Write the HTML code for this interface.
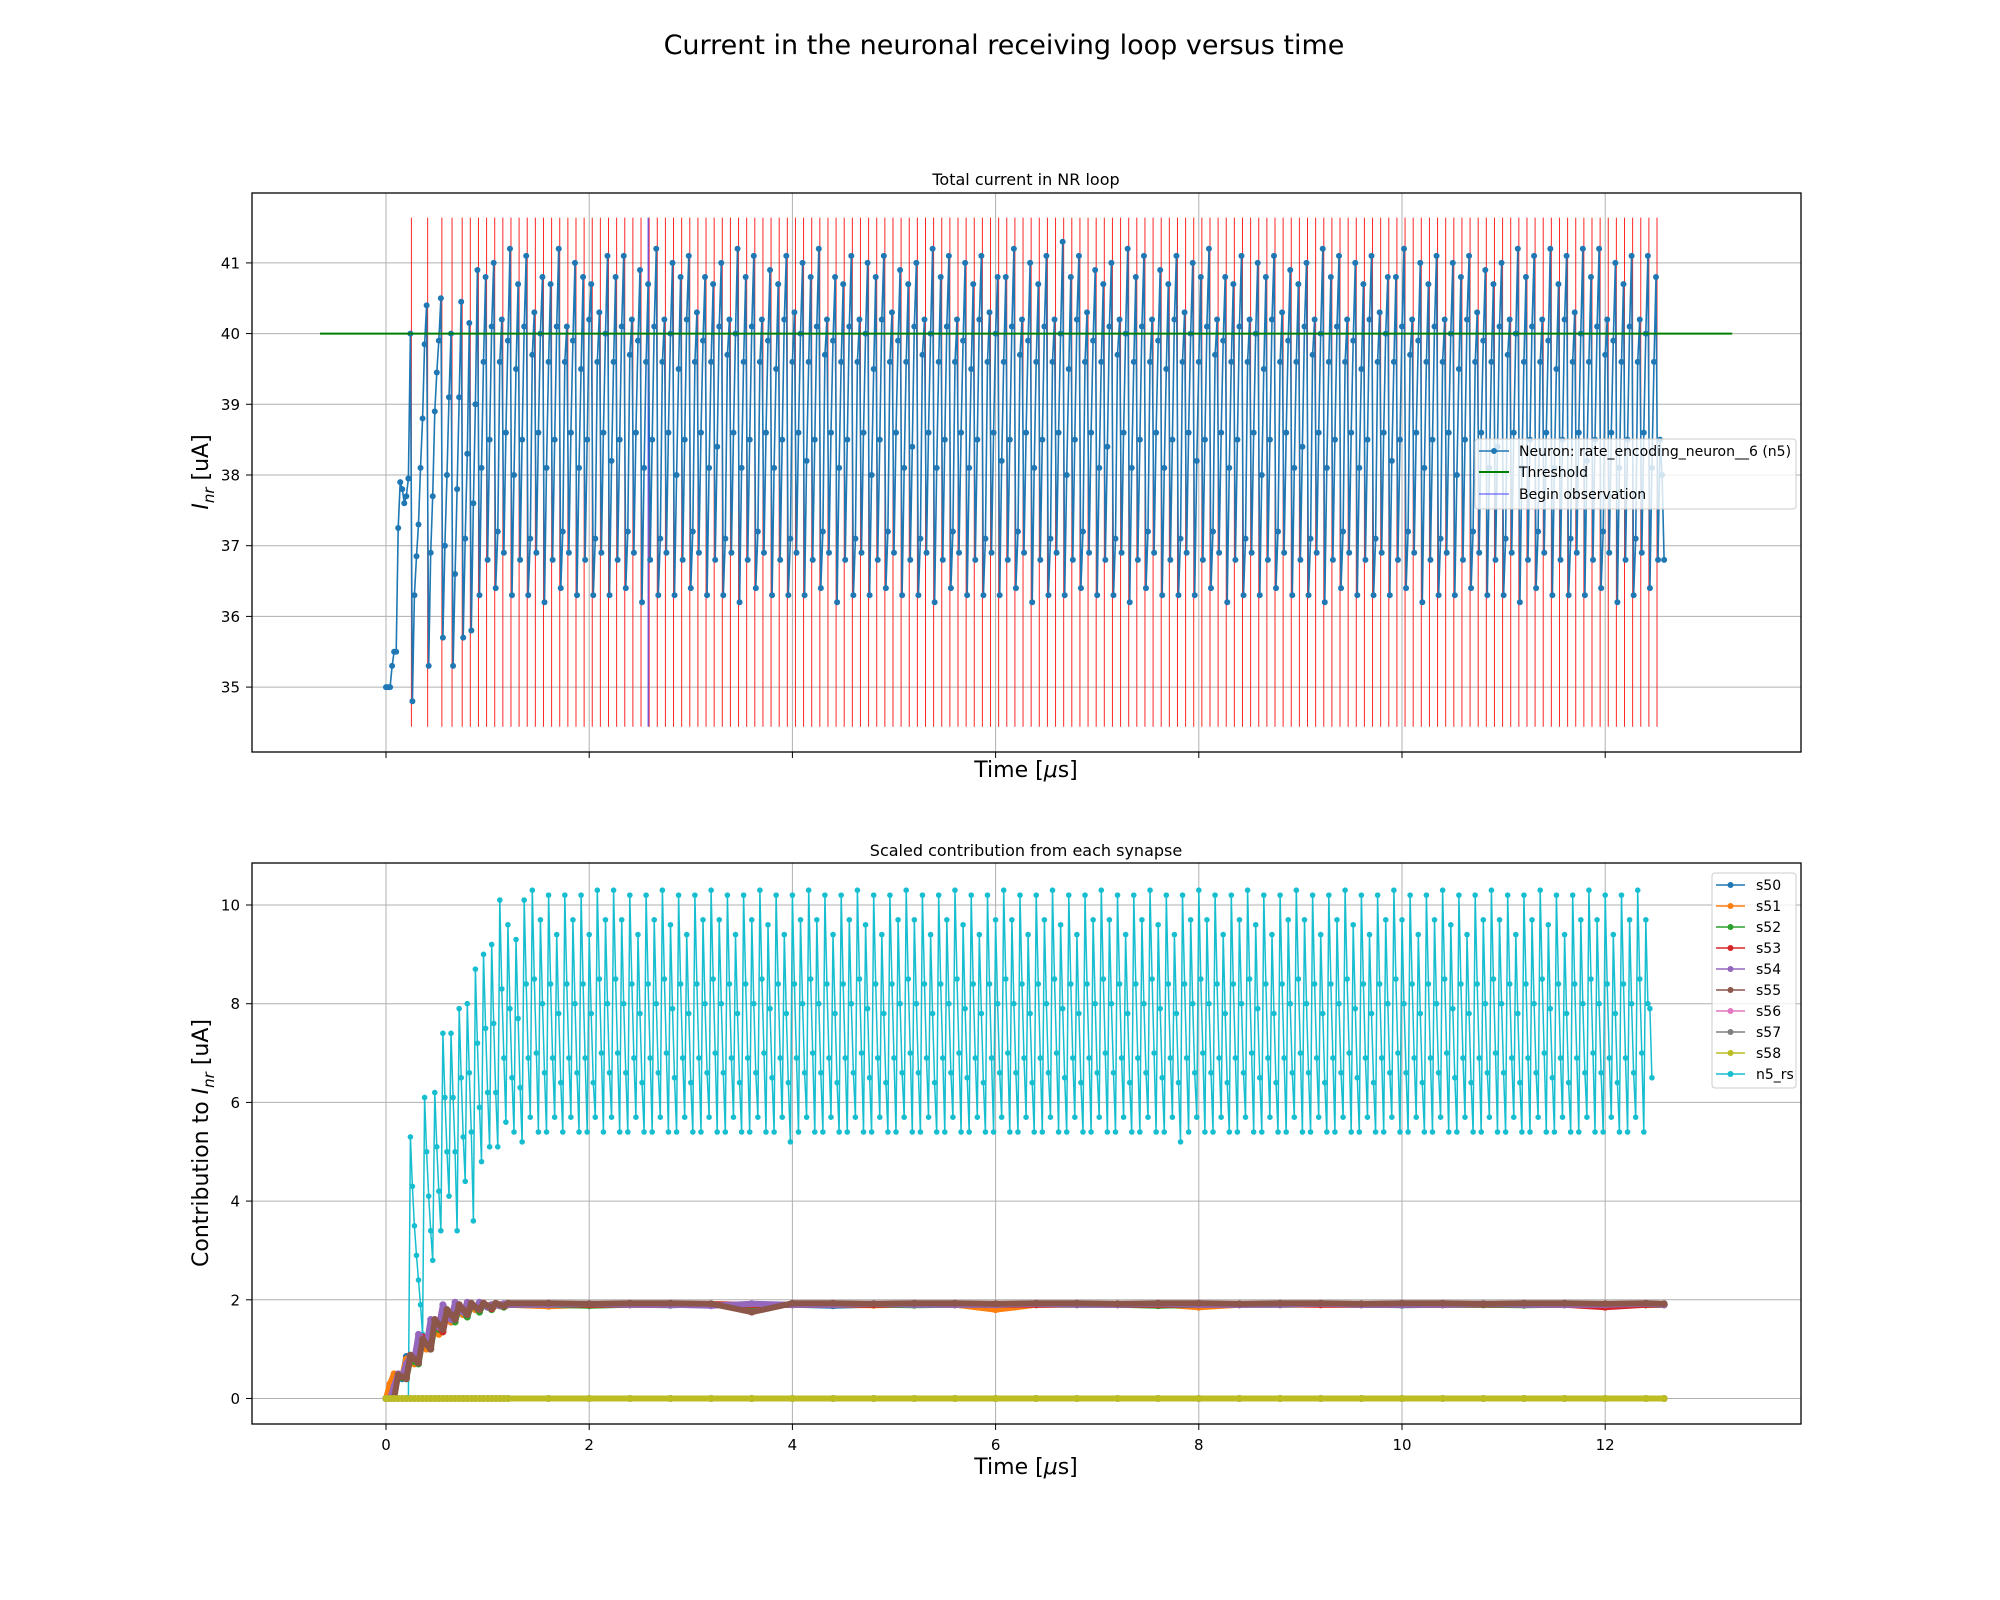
<!DOCTYPE html>
<html><head><meta charset="utf-8"><style>
html,body{margin:0;padding:0;background:#fff;}
svg{display:block;font-family:"DejaVu Sans","Liberation Sans",sans-serif;}
</style></head><body>
<svg id="chart" width="2000" height="1600" viewBox="0 0 2000 1600" xmlns="http://www.w3.org/2000/svg">
<defs>
<clipPath id="clipTop"><rect x="252" y="193" width="1549" height="559"/></clipPath>
<clipPath id="clipBot"><rect x="252" y="863" width="1549" height="561"/></clipPath>
</defs>
<rect x="0" y="0" width="2000" height="1600" fill="#fff"/>
<text x="1004" y="54" font-size="27" text-anchor="middle">Current in the neuronal receiving loop versus time</text>
<text x="1026" y="185" font-size="16" text-anchor="middle">Total current in NR loop</text>
<text x="1026" y="856" font-size="16" text-anchor="middle">Scaled contribution from each synapse</text>
<g id="gTopGrid"></g>
<g id="gBotGrid"></g>
<g id="gTopData" clip-path="url(#clipTop)"></g>
<g id="gBotData" clip-path="url(#clipBot)"></g>
<rect x="252" y="193" width="1549" height="559" fill="none" stroke="#000" stroke-width="1.3"/>
<rect x="252" y="863" width="1549" height="561" fill="none" stroke="#000" stroke-width="1.3"/>
<g id="gTicks"></g>
<text x="1026" y="777" font-size="22" text-anchor="middle">Time [<tspan font-style="italic">μ</tspan>s]</text>
<text x="1026" y="1474" font-size="22" text-anchor="middle">Time [<tspan font-style="italic">μ</tspan>s]</text>
<text transform="translate(208,472) rotate(-90)" font-size="22" text-anchor="middle"><tspan font-style="italic">I</tspan><tspan font-style="italic" font-size="15" dy="6">nr</tspan><tspan dy="-6"> [uA]</tspan></text>
<text transform="translate(208,1143) rotate(-90)" font-size="22" text-anchor="middle">Contribution to <tspan font-style="italic">I</tspan><tspan font-style="italic" font-size="15" dy="6">nr</tspan><tspan dy="-6"> [uA]</tspan></text>

<g>
<rect x="1475" y="439" width="321" height="70" rx="3" fill="#fff" fill-opacity="0.8" stroke="#ccc" stroke-width="1"/>
<g><line x1="1479" y1="451" x2="1509" y2="451" stroke="#1f77b4" stroke-width="1.5"/><circle cx="1494" cy="451" r="3" fill="#1f77b4"/><text x="1519" y="456" font-size="14">Neuron: rate_encoding_neuron__6 (n5)</text></g>
<g><line x1="1479" y1="472" x2="1509" y2="472" stroke="#008000" stroke-width="2"/><text x="1519" y="477" font-size="14">Threshold</text></g>
<g><line x1="1479" y1="494" x2="1509" y2="494" stroke="#4040ff" stroke-width="1"/><text x="1519" y="499" font-size="14">Begin observation</text></g>
</g>
<g id="gBotLegend">
<rect x="1712" y="873" width="84" height="215" rx="3" fill="#fff" fill-opacity="0.8" stroke="#ccc" stroke-width="1"/>
</g>
</svg>
<script>
// ---- data ----
const xTicks = [0, 2, 4, 6, 8, 10, 12];
const topYTicks = [35, 36, 37, 38, 39, 40, 41];
const botYTicks = [0, 2, 4, 6, 8, 10];
const dt = 0.02;
const threshold = 40;
const thresholdStart = -0.65;
const thresholdEnd = 13.25;
const beginObservation = 2.58;
const spikeLow = 34.44;
const spikeHigh = 41.64;
const neuronEarly = [35,35,35,35.3,35.5,35.5,37.25,37.9,37.8,37.6,37.7,37.95,
40.0,34.8,36.3,36.85,37.3,38.1,38.8,39.85,40.4,35.3,36.9,37.7,38.9,39.45,39.9,40.5,
35.7,37.0,38.0,39.1,40.0,35.3,36.6,37.8,39.1,40.45,35.7,37.1,38.3,40.15,35.8,37.6,39.0,40.9];
const neuronCycles = [
36.3,38.1,39.6,40.8, 36.8,38.5,40.1,41.0, 36.4,37.2,39.6,40.2, 36.9,38.6,39.9,41.2,
36.3,38.0,39.5,40.7, 36.8,38.5,40.1,41.1, 36.3,37.1,39.7,40.3, 36.9,38.6,40.0,40.8,
36.2,38.1,39.6,40.7, 36.8,38.5,40.1,41.2, 36.4,37.2,39.6,40.1, 36.9,38.6,39.9,41.0,
36.3,38.1,39.5,40.8, 36.8,38.5,40.2,40.7, 36.3,37.1,39.6,40.3, 36.9,38.6,40.0,41.1,
36.3,38.2,39.6,40.8, 36.8,38.5,40.1,41.1, 36.4,37.2,39.7,40.2, 36.9,38.6,39.9,40.9,
36.2,38.1,39.6,40.7, 36.8,38.5,40.1,41.2, 36.3,37.1,39.6,40.2, 36.9,38.6,40.0,41.0,
36.3,38.0,39.5,40.8, 36.8,38.5,40.2,41.1, 36.4,37.2,39.6,40.3, 36.9,38.6,39.9,40.8,
36.3,38.1,39.6,40.7, 36.8,38.4,40.1,41.0, 36.3,37.1,39.7,40.2, 36.9,38.6,40.0,41.2,
36.2,38.1,39.6,40.8, 36.8,38.5,40.1,41.1, 36.4,37.2,39.6,40.2, 36.9,38.6,39.9,40.9,
36.3,38.1,39.5,40.7, 36.8,38.5,40.2,41.1, 36.3,37.1,39.6,40.3, 36.9,38.6,40.0,41.0,
36.3,38.2,39.6,40.8, 36.8,38.5,40.1,41.2, 36.4,37.2,39.7,40.2, 36.9,38.6,39.9,40.8,
36.2,38.1,39.6,40.7, 36.8,38.5,40.1,41.1, 36.3,37.1,39.6,40.2, 36.9,38.6,40.0,41.0,
36.3,38.0,39.5,40.8, 36.8,38.5,40.2,41.1, 36.4,37.2,39.6,40.3, 36.9,38.6,39.9,40.9,
36.3,38.1,39.6,40.7, 36.8,38.4,40.1,41.0, 36.3,37.1,39.7,40.2, 36.9,38.6,40.0,41.2,
36.2,38.1,39.6,40.8, 36.8,38.5,40.1,41.1, 36.4,37.2,39.6,40.2, 36.9,38.6,39.9,41.0,
36.3,38.1,39.5,40.7, 36.8,38.5,40.2,41.1, 36.3,37.1,39.6,40.3, 36.9,38.6,40.0,40.8,
36.3,38.2,39.6,40.8, 36.8,38.5,40.1,41.2, 36.4,37.2,39.7,40.2, 36.9,38.6,39.9,41.0,
36.2,38.1,39.6,40.7, 36.8,38.5,40.1,41.1, 36.3,37.1,39.6,40.2, 36.9,38.6,40.0,41.3,
36.3,38.0,39.5,40.8, 36.8,38.5,40.2,41.1, 36.4,37.2,39.6,40.3, 36.9,38.6,39.9,40.9,
36.3,38.1,39.6,40.7, 36.8,38.4,40.1,41.0, 36.3,37.1,39.7,40.2, 36.9,38.6,40.0,41.2,
36.2,38.1,39.6,40.8, 36.8,38.5,40.1,41.1, 36.4,37.2,39.6,40.2, 36.9,38.6,39.9,40.9,
36.3,38.1,39.5,40.7, 36.8,38.5,40.2,41.1, 36.3,37.1,39.6,40.3, 36.9,38.6,40.0,41.0,
36.3,38.2,39.6,40.8, 36.8,38.5,40.1,41.2, 36.4,37.2,39.7,40.2, 36.9,38.6,39.9,40.8,
36.2,38.1,39.6,40.7, 36.8,38.5,40.1,41.1, 36.3,37.1,39.6,40.2, 36.9,38.6,40.0,41.0,
36.3,38.0,39.5,40.8, 36.8,38.5,40.2,41.1, 36.4,37.2,39.6,40.3, 36.9,38.6,39.9,40.9,
36.3,38.1,39.6,40.7, 36.8,38.4,40.1,41.0, 36.3,37.1,39.7,40.2, 36.9,38.6,40.0,41.2,
36.2,38.1,39.6,40.8, 36.8,38.5,40.1,41.1, 36.4,37.2,39.6,40.2, 36.9,38.6,39.9,41.0,
36.3,38.1,39.5,40.7, 36.8,38.5,40.2,41.1, 36.3,37.1,39.6,40.3, 36.9,38.6,40.0,40.8,
36.3,38.2,39.6,40.8, 36.8,38.5,40.1,41.2, 36.4,37.2,39.7,40.2, 36.9,38.6,39.9,41.0,
36.2,38.1,39.6,40.7, 36.8,38.5,40.1,41.1, 36.3,37.1,39.6,40.2, 36.9,38.6,40.0,41.0,
36.3,38.0,39.5,40.8, 36.8,38.5,40.2,41.1, 36.4,37.2,39.6,40.3, 36.9,38.6,39.9,40.9,
36.3,38.1,39.6,40.7, 36.8,38.4,40.1,41.0, 36.3,37.1,39.7,40.2, 36.9,38.6,40.0,41.2,
36.2,38.1,39.6,40.8, 36.8,38.5,40.1,41.1, 36.4,37.2,39.6,40.2, 36.9,38.6,39.9,41.2,
36.3,38.1,39.5,40.7, 36.8,38.5,40.2,41.1, 36.3,37.1,39.6,40.3, 36.9,38.6,40.0,41.2,
36.3,38.2,39.6,40.8, 36.8,38.5,40.1,41.2, 36.4,37.2,39.7,40.2, 36.9,38.6,39.9,41.0,
36.2,38.1,39.6,40.7, 36.8,38.5,40.1,41.1, 36.3,37.1,39.6,40.2, 36.9,38.6,40.0,41.1,
36.4,38.1,39.6,40.8, 36.8,38.5,38.0,36.8];
const n5Early = [0,0,0,0,0,0,0,0,0,0,0,0,
5.3,4.3,3.5,2.9,2.4,1.9,1.3, 6.1,5.0,4.1,3.4,2.8, 6.2,5.1,4.2,3.4, 7.4,6.1,5.0,4.1,
7.4,6.1,5.0,3.4, 7.9,6.5,5.3,4.4, 8.0,6.6,5.4,3.6, 8.7,7.2,5.9,4.8, 9.0,7.5,6.2,5.1, 9.2,7.6,6.2,5.1];
const n5Cycles = [
10.1,8.3,6.9,5.6, 9.6,7.9,6.5,5.4, 9.3,7.7,6.3,5.2, 10.1,8.4,6.9,5.7,
10.3,8.5,7.0,5.4, 9.7,8.0,6.6,5.4, 10.2,8.4,6.9,5.7, 9.4,7.8,6.4,5.4,
10.2,8.4,6.9,5.7, 9.7,8.0,6.6,5.4, 10.2,8.4,6.9,5.4, 9.4,7.8,6.4,5.7,
10.3,8.5,7.0,5.4, 9.7,8.0,6.6,5.7, 10.3,8.5,7.0,5.4, 9.7,8.0,6.6,5.4,
10.2,8.4,6.9,5.7, 9.4,7.8,6.4,5.4, 10.2,8.4,6.9,5.4, 9.7,8.0,6.6,5.7,
10.3,8.5,7.0,5.4, 9.6,7.9,6.5,5.4, 10.2,8.4,6.9,5.7, 9.4,7.8,6.4,5.4,
10.2,8.4,6.9,5.4, 9.7,8.0,6.6,5.7, 10.3,8.5,7.0,5.4, 9.7,8.0,6.6,5.4,
10.2,8.4,6.9,5.7, 9.4,7.8,6.4,5.4, 10.2,8.4,6.9,5.4, 9.7,8.0,6.6,5.7,
10.3,8.5,7.0,5.4, 9.6,7.9,6.5,5.4, 10.2,8.4,6.9,5.7, 9.4,7.8,6.4,5.2,
10.2,8.4,6.9,5.4, 9.7,8.0,6.6,5.7, 10.3,8.5,7.0,5.4, 9.7,8.0,6.6,5.4,
10.2,8.4,6.9,5.7, 9.4,7.8,6.4,5.4, 10.2,8.4,6.9,5.4, 9.7,8.0,6.6,5.7,
10.3,8.5,7.0,5.4, 9.6,7.9,6.5,5.4, 10.2,8.4,6.9,5.7, 9.4,7.8,6.4,5.4,
10.2,8.4,6.9,5.4, 9.7,8.0,6.6,5.7, 10.3,8.5,7.0,5.4, 9.7,8.0,6.6,5.4,
10.2,8.4,6.9,5.7, 9.4,7.8,6.4,5.4, 10.2,8.4,6.9,5.4, 9.7,8.0,6.6,5.7,
10.3,8.5,7.0,5.4, 9.6,7.9,6.5,5.4, 10.2,8.4,6.9,5.7, 9.4,7.8,6.4,5.4,
10.2,8.4,6.9,5.4, 9.7,8.0,6.6,5.7, 10.3,8.5,7.0,5.4, 9.7,8.0,6.6,5.4,
10.2,8.4,6.9,5.7, 9.4,7.8,6.4,5.4, 10.2,8.4,6.9,5.4, 9.7,8.0,6.6,5.7,
10.3,8.5,7.0,5.4, 9.6,7.9,6.5,5.4, 10.2,8.4,6.9,5.7, 9.4,7.8,6.4,5.4,
10.2,8.4,6.9,5.4, 9.7,8.0,6.6,5.7, 10.3,8.5,7.0,5.4, 9.7,8.0,6.6,5.4,
10.2,8.4,6.9,5.7, 9.4,7.8,6.4,5.4, 10.2,8.4,6.9,5.4, 9.7,8.0,6.6,5.7,
10.3,8.5,7.0,5.4, 9.6,7.9,6.5,5.4, 10.2,8.4,6.9,5.7, 9.4,7.8,6.4,5.2,
10.2,8.4,6.9,5.4, 9.7,8.0,6.6,5.7, 10.3,8.5,7.0,5.4, 9.7,8.0,6.6,5.4,
10.2,8.4,6.9,5.7, 9.4,7.8,6.4,5.4, 10.2,8.4,6.9,5.4, 9.7,8.0,6.6,5.7,
10.3,8.5,7.0,5.4, 9.6,7.9,6.5,5.4, 10.2,8.4,6.9,5.7, 9.4,7.8,6.4,5.4,
10.2,8.4,6.9,5.4, 9.7,8.0,6.6,5.7, 10.3,8.5,7.0,5.4, 9.7,8.0,6.6,5.4,
10.2,8.4,6.9,5.7, 9.4,7.8,6.4,5.4, 10.2,8.4,6.9,5.4, 9.7,8.0,6.6,5.7,
10.3,8.5,7.0,5.4, 9.6,7.9,6.5,5.4, 10.2,8.4,6.9,5.7, 9.4,7.8,6.4,5.4,
10.2,8.4,6.9,5.4, 9.7,8.0,6.6,5.7, 10.3,8.5,7.0,5.4, 9.7,8.0,6.6,5.4,
10.2,8.4,6.9,5.7, 9.4,7.8,6.4,5.4, 10.2,8.4,6.9,5.4, 9.7,8.0,6.6,5.7,
10.3,8.5,7.0,5.4, 9.6,7.9,6.5,5.4, 10.2,8.4,6.9,5.7, 9.4,7.8,6.4,5.4,
10.2,8.4,6.9,5.4, 9.7,8.0,6.6,5.7, 10.3,8.5,7.0,5.4, 9.7,8.0,6.6,5.4,
10.2,8.4,6.9,5.7, 9.4,7.8,6.4,5.4, 10.2,8.4,6.9,5.4, 9.7,8.0,6.6,5.7,
10.3,8.5,7.0,5.4, 9.6,7.9,6.5,5.4, 10.2,8.4,6.9,5.7, 9.4,7.8,6.4,5.4,
10.2,8.4,6.9,5.4, 9.7,8.0,6.6,5.7, 10.3,8.5,7.0,5.4, 9.7,8.0,6.6,5.4,
10.2,8.4,6.9,5.7, 9.4,7.8,6.4,5.4, 10.2,8.4,6.9,5.4, 9.7,8.0,6.6,5.7,
10.3,8.5,7.0,5.4, 9.7,8.0,7.9,6.5];
const synTimes = [0,0.04,0.08,0.12,0.16,0.2,0.24,0.28,0.32,0.36,0.4,0.44,0.48,0.52,0.56,0.6,0.64,0.68,0.72,0.76,0.8,0.84,0.88,0.92,0.96,1.0,1.04,1.08,1.12,1.16,1.2,
1.6,2.0,2.4,2.8,3.2,3.6,4.0,4.4,4.8,5.2,5.6,6.0,6.4,6.8,7.2,7.6,8.0,8.4,8.8,9.2,9.6,10.0,10.4,10.8,11.2,11.6,12.0,12.4,12.58];
const s50 = [0,0,0.45,0.45,0.4,0.85,0.8,0.75,1.2,1.1,1.05,1.5,1.4,1.35,1.7,1.6,1.55,1.85,1.75,1.7,1.9,1.85,1.8,1.92,1.88,1.85,1.9,1.9,1.88,1.9,1.9,
1.88,1.9,1.9,1.89,1.91,1.9,1.9,1.88,1.9,1.91,1.9,1.89,1.9,1.9,1.91,1.9,1.88,1.9,1.9,1.91,1.9,1.89,1.9,1.9,1.9,1.91,1.9,1.9,1.9];
const s51 = [0,0.3,0.5,0.48,0.45,0.8,0.75,0.7,1.15,1.1,1.0,1.45,1.4,1.3,1.7,1.65,1.55,1.8,1.75,1.7,1.9,1.85,1.8,1.9,1.88,1.85,1.9,1.9,1.88,1.9,1.9,
1.87,1.9,1.9,1.9,1.91,1.9,1.9,1.9,1.89,1.9,1.9,1.8,1.9,1.9,1.9,1.91,1.85,1.9,1.9,1.9,1.9,1.9,1.9,1.91,1.9,1.9,1.9,1.9,1.9];
const s52 = [0,0,0.2,0.45,0.42,0.4,0.8,0.75,0.7,1.2,1.1,1.0,1.5,1.4,1.35,1.75,1.65,1.55,1.85,1.75,1.65,1.9,1.85,1.75,1.92,1.85,1.8,1.9,1.88,1.85,1.9,
1.9,1.88,1.9,1.91,1.9,1.88,1.9,1.9,1.9,1.89,1.9,1.9,1.91,1.9,1.9,1.88,1.9,1.9,1.9,1.91,1.9,1.9,1.9,1.9,1.89,1.9,1.9,1.9,1.9];
const s53 = [0,0,0.1,0.48,0.45,0.42,0.85,0.8,0.75,1.25,1.15,1.05,1.55,1.45,1.35,1.75,1.7,1.6,1.9,1.8,1.7,1.92,1.85,1.8,1.93,1.88,1.82,1.9,1.9,1.87,1.9,
1.91,1.9,1.9,1.9,1.91,1.9,1.9,1.9,1.9,1.91,1.9,1.9,1.9,1.91,1.9,1.9,1.9,1.9,1.91,1.9,1.9,1.9,1.9,1.91,1.9,1.9,1.85,1.9,1.9];
const s54 = [0,0,0.25,0.5,0.45,0.7,0.85,0.8,1.3,1.2,1.1,1.6,1.5,1.45,1.9,1.75,1.6,1.95,1.85,1.75,1.95,1.9,1.85,1.95,1.9,1.85,1.9,1.9,1.88,1.92,1.9,
1.9,1.92,1.9,1.9,1.88,1.92,1.9,1.9,1.92,1.9,1.9,1.9,1.92,1.9,1.9,1.92,1.9,1.9,1.9,1.92,1.9,1.9,1.9,1.92,1.9,1.9,1.9,1.92,1.9];
const s55 = [0,0,0,0.48,0.44,0.4,0.88,0.8,0.72,1.2,1.1,1.0,1.6,1.5,1.4,1.8,1.7,1.6,1.9,1.8,1.7,1.93,1.85,1.8,1.93,1.88,1.84,1.93,1.9,1.87,1.93,
1.93,1.92,1.93,1.93,1.92,1.75,1.93,1.93,1.92,1.93,1.93,1.92,1.93,1.93,1.92,1.93,1.93,1.92,1.93,1.93,1.92,1.93,1.93,1.92,1.93,1.93,1.92,1.93,1.92];
const s56 = [0,0,0,0,0,0,0,0,0,0,0,0,0,0,0,0,0,0,0,0,0,0,0,0,0,0,0,0,0,0,0,0,0,0,0,0,0,0,0,0,0,0,0,0,0,0,0,0,0,0,0,0,0,0,0,0,0,0,0,0];
const s57 = [0,0,0,0,0,0,0,0,0,0,0,0,0,0,0,0,0,0,0,0,0,0,0,0,0,0,0,0,0,0,0,0,0,0,0,0,0,0,0,0,0,0,0,0,0,0,0,0,0,0,0,0,0,0,0,0,0,0,0,0];
const s58 = [0,0,0,0,0,0,0,0,0,0,0,0,0,0,0,0,0,0,0,0,0,0,0,0,0,0,0,0,0,0,0,0,0,0,0,0,0,0,0,0,0,0,0,0,0,0,0,0,0,0,0,0,0,0,0,0,0,0,0,0];
const synNames = ["s50","s51","s52","s53","s54","s55","s56","s57","s58"];
const synColors = ["#1f77b4","#ff7f0e","#2ca02c","#d62728","#9467bd","#8c564b","#e377c2","#7f7f7f","#bcbd22"];
const n5Color = "#17becf";

// ---- scales ----
const NS = "http://www.w3.org/2000/svg";
function xS(t){ return 386 + 101.6 * t; }
function yTop(v){ return 333.6 - (v - 40) * 70.7; }
function yBot(v){ return 1398.5 - v * 49.35; }
function mk(tag, attrs, parent){
  const e = document.createElementNS(NS, tag);
  for (const k in attrs) e.setAttribute(k, attrs[k]);
  parent.appendChild(e);
  return e;
}
const gTopGrid = document.getElementById('gTopGrid');
const gBotGrid = document.getElementById('gBotGrid');
const gTicks = document.getElementById('gTicks');
const gTopData = document.getElementById('gTopData');
const gBotData = document.getElementById('gBotData');

xTicks.forEach(t => {
  const x = xS(t);
  let l = mk('line', {x1:x, y1:193, x2:x, y2:752, stroke:'#b0b0b0', 'stroke-width':1}, gTopGrid);
  
  
  l = mk('line', {x1:x, y1:863, x2:x, y2:1424, stroke:'#b0b0b0', 'stroke-width':1}, gBotGrid);
  
  
  l = mk('line', {x1:x, y1:752, x2:x, y2:758, stroke:'#000', 'stroke-width':1}, gTicks);
  
  
  l = mk('line', {x1:x, y1:1424, x2:x, y2:1430, stroke:'#000', 'stroke-width':1}, gTicks);
  
  
  const tx = mk('text', {x:x, y:1450, 'font-size':15, 'text-anchor':'middle'}, gTicks);
  tx.textContent = String(t);
  
  
});
topYTicks.forEach(v => {
  const y = yTop(v);
  let l = mk('line', {x1:252, y1:y, x2:1801, y2:y, stroke:'#b0b0b0', 'stroke-width':1}, gTopGrid);
  
  
  l = mk('line', {x1:246, y1:y, x2:252, y2:y, stroke:'#000', 'stroke-width':1}, gTicks);
  
  
  const tx = mk('text', {x:240, y:y + 5.5, 'font-size':15, 'text-anchor':'end'}, gTicks);
  tx.textContent = String(v);
  
  
});
botYTicks.forEach(v => {
  const y = yBot(v);
  let l = mk('line', {x1:252, y1:y, x2:1801, y2:y, stroke:'#b0b0b0', 'stroke-width':1}, gBotGrid);
  
  
  l = mk('line', {x1:246, y1:y, x2:252, y2:y, stroke:'#000', 'stroke-width':1}, gTicks);
  
  
  const tx = mk('text', {x:240, y:y + 5.5, 'font-size':15, 'text-anchor':'end'}, gTicks);
  tx.textContent = String(v);
  
  
});

// ---- top chart ----
const neuron = neuronEarly.concat(neuronCycles);
const spikeTimes = [];
for (let i = 0; i < neuron.length - 1; i++) {
  if (neuron[i] >= 39.8 && neuron[i + 1] < neuron[i] - 1.5) spikeTimes.push(i * dt + dt / 2);
}
spikeTimes.forEach(t => {
  const l = mk('line', {x1:xS(t), y1:yTop(spikeHigh), x2:xS(t), y2:yTop(spikeLow), stroke:'#ff0000', 'stroke-width':1, 'stroke-opacity':0.85}, gTopData);
  
  
});
{
  const l = mk('line', {x1:xS(beginObservation), y1:yTop(spikeHigh), x2:xS(beginObservation), y2:yTop(spikeLow), stroke:'#4040ff', 'stroke-width':1}, gTopData);
  
  
}
{
  const pts = neuron.map((v, i) => xS(i * dt).toFixed(1) + ',' + yTop(v).toFixed(1)).join(' ');
  const pl = mk('polyline', {points:pts, fill:'none', stroke:'#1f77b4', 'stroke-width':1.6, 'stroke-linejoin':'round'}, gTopData);
  
  
  neuron.forEach((v, i) => {
    const c = mk('circle', {cx:xS(i * dt), cy:yTop(v), r:3, fill:'#1f77b4'}, gTopData);
    
    
  });
}
{
  const l = mk('line', {x1:xS(thresholdStart), y1:yTop(threshold), x2:xS(thresholdEnd), y2:yTop(threshold), stroke:'#008000', 'stroke-width':2}, gTopData);
  
  
}

// ---- bottom chart ----
const synSeries = [s50, s51, s52, s53, s54, s55, s56, s57, s58];
const n5 = n5Early.concat(n5Cycles);
function drawSeries(times, vals, color, name, sw, r){
  const g = mk('g', {}, gBotData);
  
  
  const pts = vals.map((v, i) => xS(times[i]).toFixed(1) + ',' + yBot(v).toFixed(1)).join(' ');
  const pl = mk('polyline', {points:pts, fill:'none', stroke:color, 'stroke-width':sw, 'stroke-linejoin':'round'}, g);
  
  
  vals.forEach((v, i) => {
    const c = mk('circle', {cx:xS(times[i]), cy:yBot(v), r:r, fill:color}, g);
    
    
  });
}
const n5Times = n5.map((v, i) => i * dt);
drawSeries(n5Times, n5, n5Color, 'n5_rs', 1.5, 2.8);
synSeries.forEach((arr, k) => drawSeries(synTimes, arr, synColors[k], synNames[k], 6, 3.5));

// bottom legend
const gLeg = document.getElementById('gBotLegend');
const legNames = synNames.concat(['n5_rs']);
const legColors = synColors.concat([n5Color]);
legNames.forEach((n, k) => {
  const y = 885 + k * 21;
  const g = mk('g', {}, gLeg);
  
  
  mk('line', {x1:1716, y1:y, x2:1745, y2:y, stroke:legColors[k], 'stroke-width':1.5}, g);
  mk('circle', {cx:1730.5, cy:y, r:3, fill:legColors[k]}, g);
  const t = mk('text', {x:1756, y:y + 5, 'font-size':14}, g);
  t.textContent = n;
});
</script>
</body></html>
